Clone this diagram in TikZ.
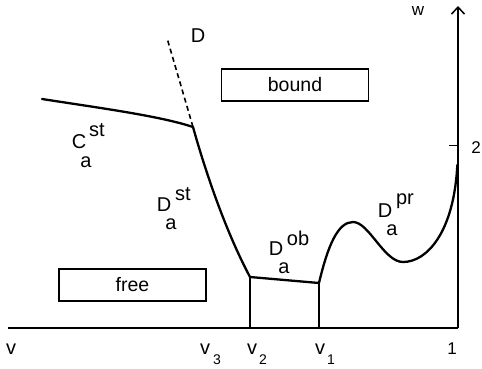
\documentclass[tikz,border=0pt]{standalone}
\usepackage{fontspec}
\setmainfont{Liberation Sans}
\usetikzlibrary{arrows.meta}
\tikzset{
  curve/.style={line width=2.3pt, line join=round, line cap=round},
  thin line/.style={line width=1.3pt},
  axisline/.style={line width=1.5pt},
  labelbox/.style={draw, line width=1.1pt, minimum width=147pt, minimum height=32pt, inner sep=0pt, font=\fontsize{19.5}{22}\selectfont},
  lbl/.style={inner sep=0pt, font=\fontsize{20}{22}\selectfont},
  sml/.style={inner sep=0pt, font=\fontsize{14}{16}\selectfont},
  mid/.style={inner sep=0pt, font=\fontsize{17}{20}\selectfont},
}
\begin{document}
\begin{tikzpicture}[x=1pt,y=-1pt]
\useasboundingbox (0,0) rectangle (482,368);
% axes
\coordinate (o0) at (8,328);
\coordinate (o1) at (458,328);
\coordinate (wtop) at (458,6);
\draw[axisline] (o0) -- (o1);
\draw[axisline,-{Straight Barb[length=7pt,width=13pt]}] (o1) -- (wtop);
\coordinate (tk0) at (449,145);
\coordinate (tk1) at (458,145);
\draw[line width=1pt] (tk0) -- (tk1);
% curve points
\coordinate (c0) at (42,99);
\coordinate (c1) at (193,127);
\coordinate (dtop) at (167,38);
\coordinate (c2) at (250,277);
\coordinate (c3) at (319,283);
\coordinate (b2) at (250,328);
\coordinate (b3) at (319,328);
\coordinate (pk) at (353,222);
\coordinate (mn) at (403,262);
\coordinate (ax) at (457.3,165);
\draw[line width=1.6pt, dash pattern=on 5pt off 3.5pt] (c1) -- (dtop);
\draw[curve] (c0) .. controls (100,108) and (160,116) .. (c1)
  .. controls (205,170) and (225,230) .. (c2) -- (c3)
  .. controls (328,245) and (338,222) .. (pk)
  .. controls (369,222) and (384,262) .. (mn)
  .. controls (427,262) and (454,232) .. (ax);
\draw[thin line] (c2) -- (b2);
\draw[thin line] (c3) -- (b3);
% boxes
\node[labelbox] (bound) at (295,85) {bound};
\node[labelbox] (free) at (132.5,285) {free};
% curve labels
\node[lbl] (Dlab) at (198,36) {D};
\node[lbl] (C1) at (79,142) {C};
\node[lbl] (C1s) at (97,130) {st};
\node[lbl] (C1a) at (86,162) {a};
\node[lbl] (D1) at (164,205) {D};
\node[lbl] (D1s) at (183,194) {st};
\node[lbl] (D1a) at (171,224) {a};
\node[lbl] (D2) at (276,249) {D};
\node[lbl] (D2s) at (298,238) {ob};
\node[lbl] (D2a) at (284,268) {a};
\node[lbl] (D3) at (385,211) {D};
\node[lbl] (D3s) at (405,201) {pr};
\node[lbl] (D3a) at (392,230) {a};
% axis labels
\node[lbl] (vv) at (11,349) {v};
\node[lbl] (v3) at (205,349) {v};
\node[sml] (v3s) at (217,360) {3};
\node[lbl] (v2) at (252,349) {v};
\node[sml] (v2s) at (263,360) {2};
\node[lbl] (v1) at (320,349) {v};
\node[sml] (v1s) at (331,360) {1};
\node[mid] (one) at (452,349) {1};
\node[mid] (w) at (418,11) {w};
\node[mid] (two) at (476,148) {2};
\end{tikzpicture}
\end{document}
